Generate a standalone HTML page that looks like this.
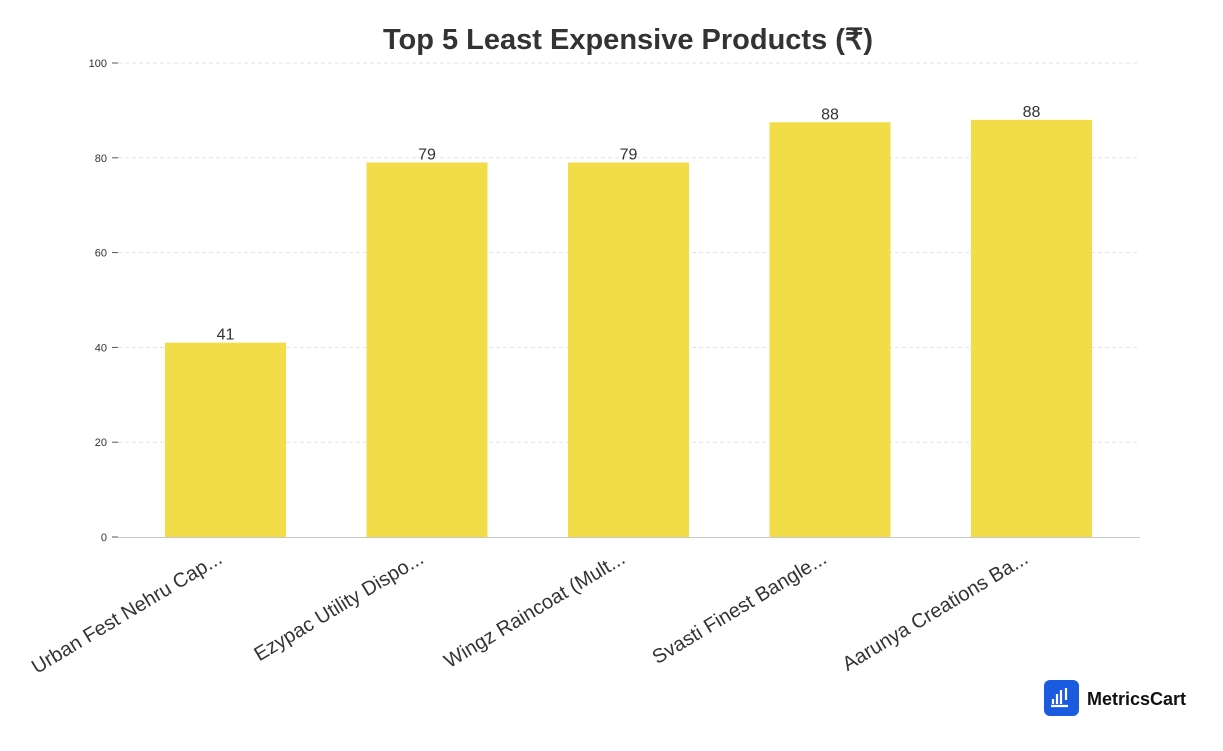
<!DOCTYPE html>
<html><head><meta charset="utf-8"><style>
body{margin:0;background:#fff;width:1223px;height:746px;overflow:hidden;font-family:"Liberation Sans",sans-serif}
</style></head><body>
<svg id="c" width="1223" height="746">
<text x="628" y="49" text-anchor="middle" font-size="29" font-weight="bold" fill="#333">Top 5 Least Expensive Products (₹)</text>
<g id="grid"></g><g id="bars"></g><g id="labels"></g>
<line x1="118" y1="537.5" x2="1140" y2="537.5" stroke="#c8c8c8"/>
<g>
<rect x="1044" y="680" width="35" height="36" rx="6" fill="#1b5be0"/>
<path d="M1053 699v5M1057 694v10M1061 690v14M1066 688v12M1051 706h17" stroke="#fff" stroke-width="2.2" fill="none"/>
<text x="1087" y="705" font-size="18" font-weight="bold" fill="#111">MetricsCart</text>
</g>
</svg>
<script>
const categories=["Urban Fest Nehru Cap...","Ezypac Utility Dispo...","Wingz Raincoat (Mult...","Svasti Finest Bangle...","Aarunya Creations Ba..."];
const values=[41,79,79,87.5,88];
const labelsTxt=["41","79","79","88","88"];
const ticks=[0,20,40,60,80,100];
const NS="http://www.w3.org/2000/svg";
const y=v=>537-v*4.74;
const xc=i=>225.5+i*201.5;
function mk(t,a,p){const e=document.createElementNS(NS,t);for(const k in a)e.setAttribute(k,a[k]);p.appendChild(e);return e;}
const g=document.getElementById('grid'),b=document.getElementById('bars'),l=document.getElementById('labels');
ticks.forEach(t=>{
 if(t>0){const gl=mk('line',{x1:118,x2:1140,y1:y(t),y2:y(t),stroke:'#e2e2e2','stroke-dasharray':'4,3'},g);
 
 }
 const tk=mk('line',{x1:112,x2:118,y1:y(t),y2:y(t),stroke:'#555'},g);
 
 
 const tl=mk('text',{x:107,y:y(t)+4,'text-anchor':'end','font-size':11,fill:'#333'},g);
 tl.textContent=t;
 
 
});
categories.forEach((c,i)=>{
 const r=mk('rect',{x:xc(i)-60.5,y:y(values[i]),width:121,height:537-y(values[i]),fill:'#f2dc48'},b);
 
 
 const v=mk('text',{x:xc(i),y:y(values[i])-3,'text-anchor':'middle','font-size':16,fill:'#333'},l);
 v.textContent=labelsTxt[i];
 
 
 const t=mk('text',{x:0,y:0,'text-anchor':'end','font-size':20,fill:'#333',transform:`translate(${xc(i)-2},${562}) rotate(-31)`},l);
 t.textContent=c;
 
 
});
</script>
</body></html>
